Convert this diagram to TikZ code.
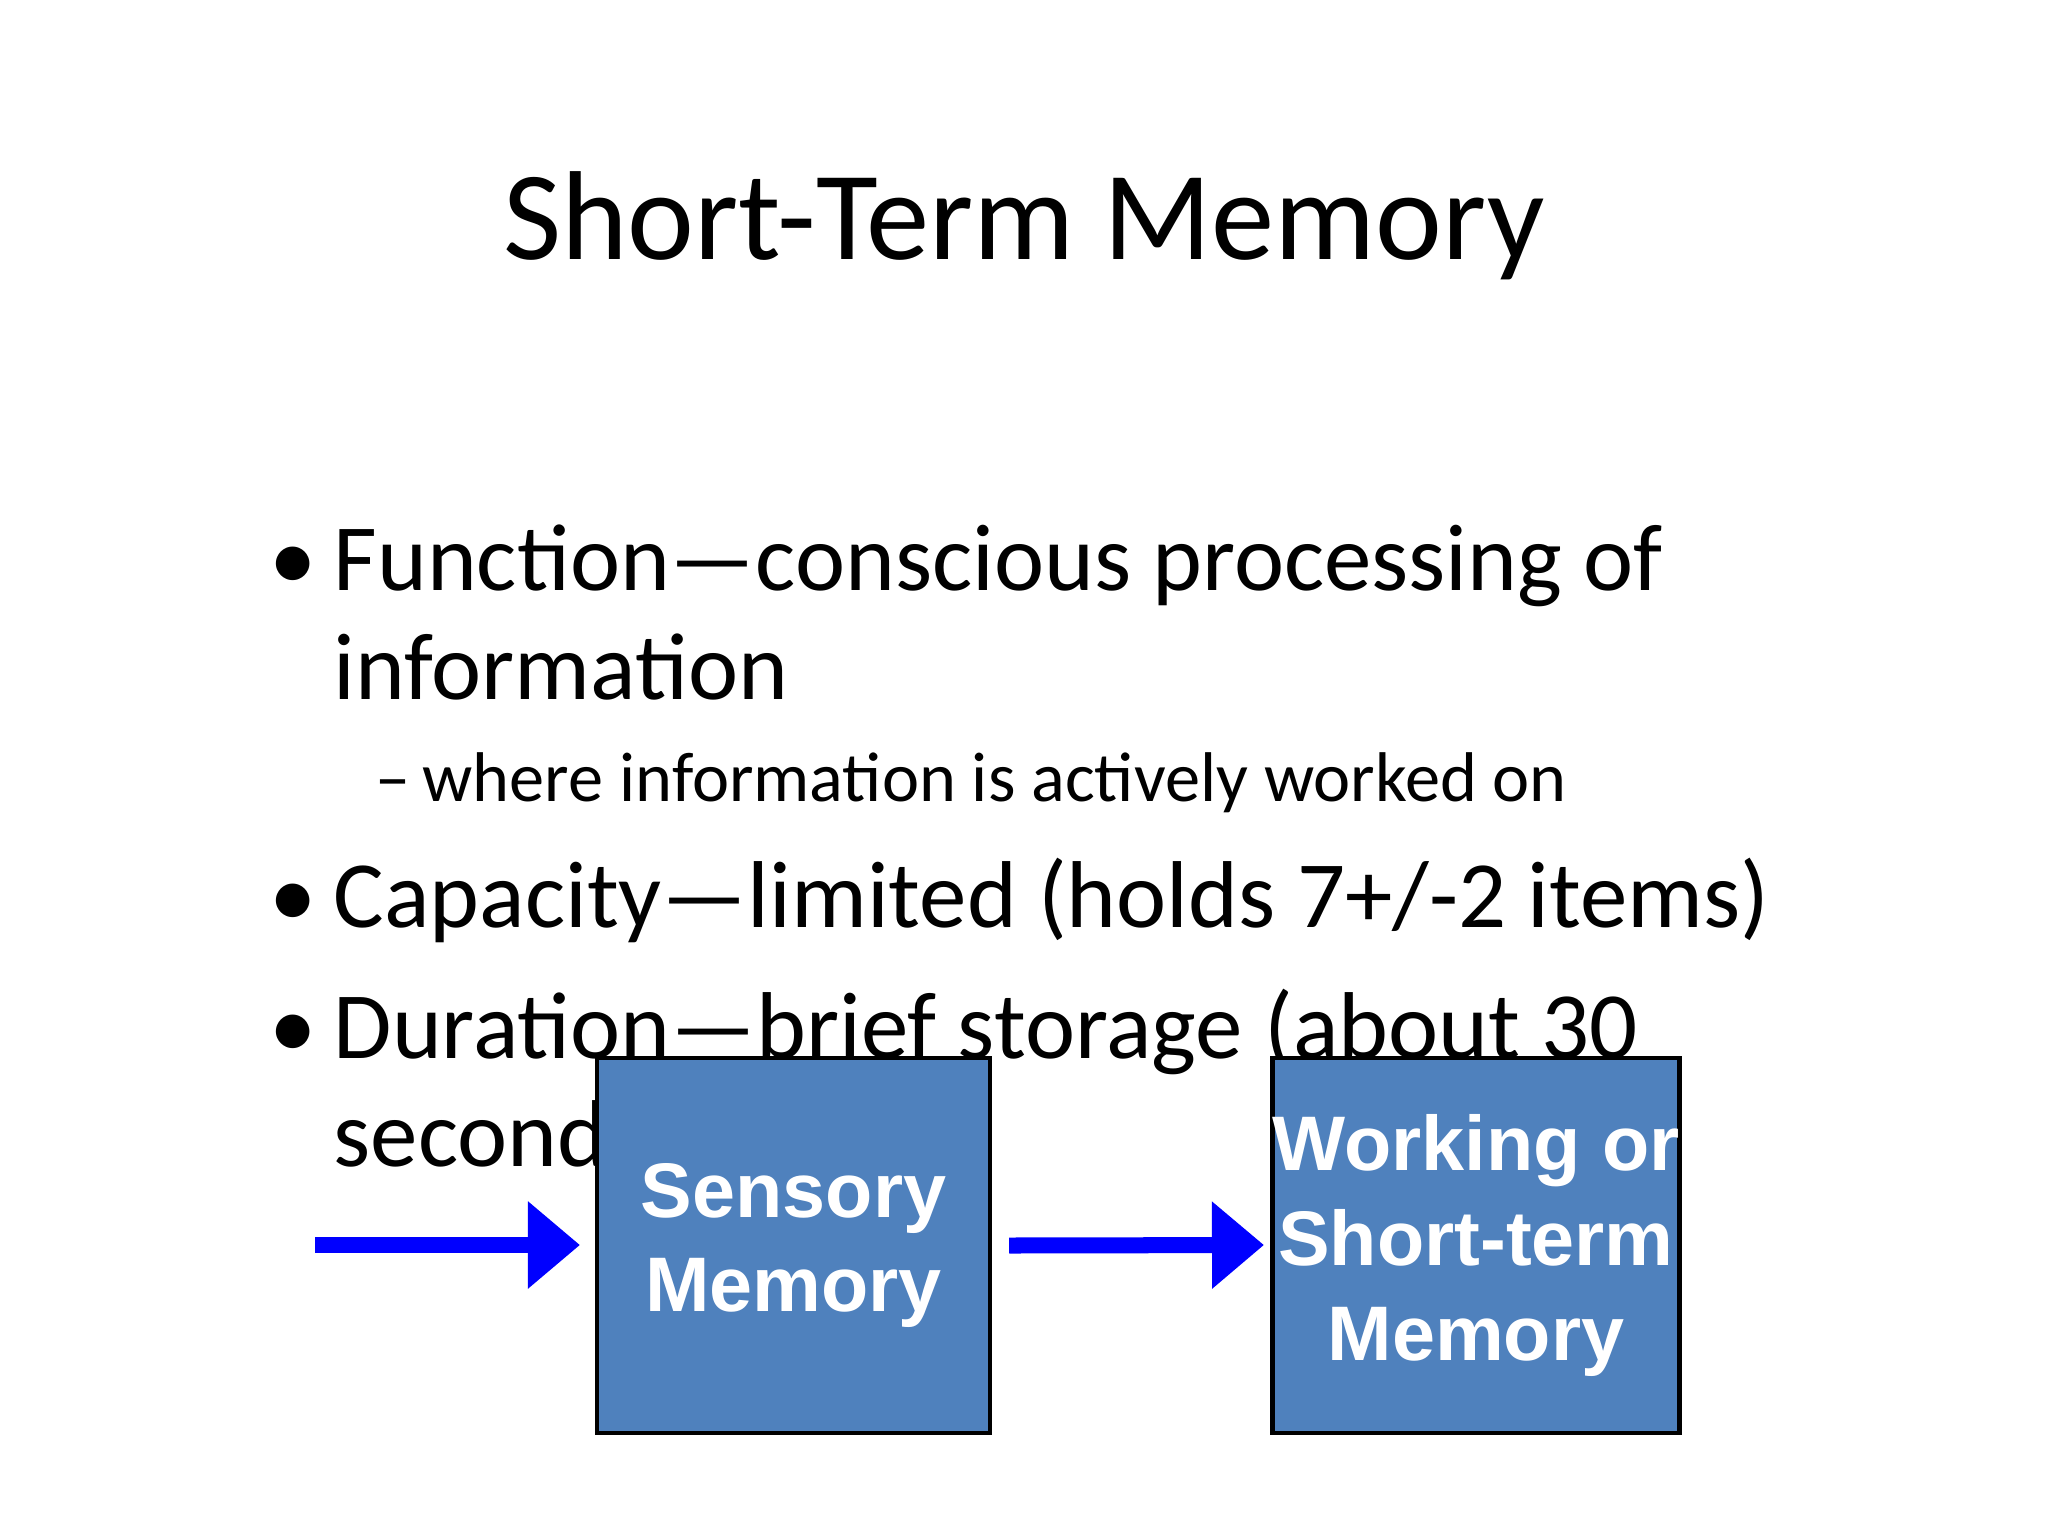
\documentclass[tikz,border=0pt]{standalone}
\usepackage{fontspec}
\setmainfont{Carlito}
\newfontfamily\boxfont{Liberation Sans}
\usetikzlibrary{arrows.meta}
\begin{document}
\begin{tikzpicture}[x=0.01cm,y=-0.01cm,
  mbox/.style={draw=black,line width=1.2pt,fill=boxblue,minimum width=3.93cm,minimum height=3.75cm,inner sep=0pt,
    text=white,font=\boxfont\bfseries\fontsize{22}{27}\selectfont,align=center},
  flow/.style={draw=arrowblue,line width=0.16cm,-{Triangle[length=0.52cm,width=0.84cm]}},
  btxt/.style={anchor=base west,inner sep=0pt,font=\fontsize{27}{32}\selectfont},
  stxt/.style={anchor=base west,inner sep=0pt,font=\fontsize{20}{24}\selectfont}]
\definecolor{boxblue}{HTML}{4F81BD}
\definecolor{arrowblue}{HTML}{0000FF}
\useasboundingbox (0,0) rectangle (2048,1536);
\fill[white] (0,0) rectangle (2048,1536);
\node[anchor=base,inner sep=0pt,font=\fontsize{36}{42}\selectfont] (title) at (1024,259) {Short-Term Memory};
\node[btxt] (b1) at (269,590) {•};
\node[btxt] (t1) at (333,590) {Function—conscious processing of};
\node[btxt] (t1b) at (333,699) {information};
\node[stxt] (d1) at (375,801) {–};
\node[stxt] (s1) at (422,801) {where information is actively worked on};
\node[btxt] (b2) at (269,927) {•};
\node[btxt] (t2) at (333,927) {Capacity—limited (holds 7+/-2 items)};
\node[btxt] (b3) at (269,1058) {•};
\node[btxt] (t3) at (333,1058) {Duration—brief storage (about 30};
\node[btxt] (t3b) at (333,1166) {seconds)};
\node[mbox] (sm) at (793.5,1245.5) {Sensory\\ Memory};
\node[mbox] (wm) at (1476,1245.5) {Working or\\Short-term\\Memory};
\coordinate (in) at (315,1245);
\draw[flow] (in) -- (580,1245);
\draw[flow] (sm.east) ++(17,0) -- (1264,1245);
\end{tikzpicture}
\end{document}
